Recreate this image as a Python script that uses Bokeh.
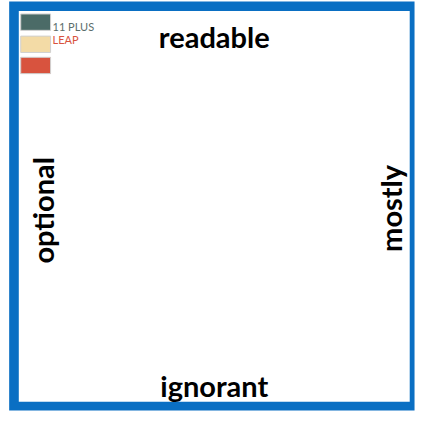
from bokeh.plotting import figure
from bokeh.models import Range1d, ColumnDataSource
from bokeh.core.properties import value
from bokeh.embed import file_html
from bokeh.resources import INLINE

# ---- data ----
legend_labels = ["11 PLUS", "LEAP", ""]
legend_colors = ["#4b6b67", "#f3dba6", "#d8533e"]
legend_text_colors = ["#5b6d6b", "#d8533e", "#d8533e"]
axis_top = "readable"
axis_bottom = "ignorant"
axis_left = "optional"
axis_right = "mostly"

# ---- layout (reference pixel space) ----
W, H = 431, 427
p = figure(width=415, height=411, x_range=Range1d(0, W), y_range=Range1d(H, 0),
           output_backend="svg", toolbar_location=None, min_border=0)
p.axis.visible = False
p.grid.visible = False
p.outline_line_color = None
p.background_fill_color = "white"
p.border_fill_color = "white"

blue = "#0a6fc3"
# frame: outer blue, inner white
p.quad(left=[9], right=[430], top=[1], bottom=[426], fill_color=blue, line_color=None)
p.quad(left=[19], right=[425], top=[11], bottom=[417], fill_color="white", line_color=None)

# legend
n = len(legend_labels)
tops = [14, 37, 59][:n]
src = ColumnDataSource(dict(
    left=[21] * n, right=[52] * n, top=tops, bottom=[t + 17 for t in tops],
    color=legend_colors))
p.quad(left="left", right="right", top="top", bottom="bottom", fill_color="color",
       line_color="#d0d0d0", line_width=1, source=src)
lab_src = ColumnDataSource(dict(x=[54] * n, y=[27, 41, 63][:n], text=legend_labels,
                                color=legend_text_colors))
p.text(x="x", y="y", text="text", text_color="color", source=lab_src,
       text_font=value("Lato"), text_font_size="11px",
       text_align="left", text_baseline="middle")

font = value("Lato")
fs = "29px"
p.text(x=[222], y=[37], text=[axis_top], text_font=font, text_font_size=fs,
       text_font_style="bold", text_align="center", text_baseline="middle", text_color="black")
p.text(x=[222], y=[400], text=[axis_bottom], text_font=font, text_font_size=fs,
       text_font_style="bold", text_align="center", text_baseline="middle", text_color="black")
p.text(x=[44], y=[218], text=[axis_left], text_font=font, text_font_size=fs, angle=1.5708,
       text_font_style="bold", text_align="center", text_baseline="middle", text_color="black")
p.text(x=[405], y=[216], text=[axis_right], text_font=font, text_font_size=fs, angle=1.5708,
       text_font_style="bold", text_align="center", text_baseline="middle", text_color="black")

open("out.html", "w").write(file_html(p, INLINE))
